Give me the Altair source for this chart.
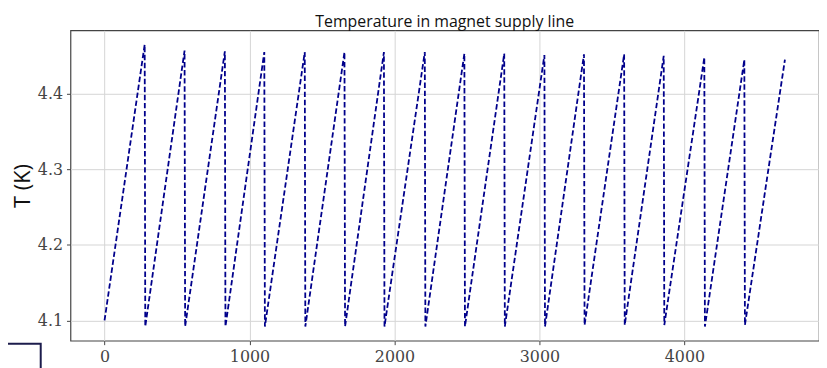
import altair as alt
import pandas as pd

# Sawtooth temperature cycles
start_t = 0
start_T = 4.100
peak_t = [277, 552, 830, 1102, 1381, 1655, 1927, 2209, 2482, 2757, 3034, 3307, 3584, 3857, 4137, 4413]
peak_T = [4.465, 4.457, 4.456, 4.455, 4.455, 4.455, 4.455, 4.455, 4.453, 4.453, 4.451, 4.452, 4.452, 4.450, 4.448, 4.445]
trough_t = [281, 556, 834, 1106, 1385, 1659, 1931, 2213, 2486, 2761, 3038, 3311, 3588, 3861, 4141, 4417]
trough_T = [4.092, 4.092, 4.092, 4.092, 4.092, 4.092, 4.092, 4.092, 4.092, 4.092, 4.092, 4.094, 4.094, 4.094, 4.092, 4.094]
end_t = 4693
end_T = 4.445

x_ticks = [0, 1000, 2000, 3000, 4000]
y_ticks = [4.1, 4.2, 4.3, 4.4]

rows = [{"t": start_t, "T": start_T}]
for pt, pT, tt, tT in zip(peak_t, peak_T, trough_t, trough_T):
    rows.append({"t": pt, "T": pT})
    rows.append({"t": tt, "T": tT})
rows.append({"t": end_t, "T": end_T})
df = pd.DataFrame(rows)
df["i"] = range(len(df))

line = alt.Chart(df).mark_line(
    color="#00008b", strokeWidth=1.8, strokeDash=[5.5, 2.6]
).encode(
    x=alt.X("t:Q", scale=alt.Scale(domain=[-235, 4928], nice=False, zero=False),
            axis=alt.Axis(values=x_ticks, title=None, format="d")),
    y=alt.Y("T:Q", scale=alt.Scale(domain=[4.0733, 4.4837], nice=False, zero=False),
            axis=alt.Axis(values=y_ticks, title="T (K)", format=".1f")),
    order="i:Q",
)

box = alt.Chart(alt.Data(values=[{}])).mark_rect(
    fillOpacity=0, stroke="#1c1c4c", strokeWidth=2
).encode(
    x=alt.value(-75), x2=alt.value(-30), y=alt.value(316), y2=alt.value(360)
)

chart = alt.layer(line, box).properties(
    width=755, height=313,
    title=alt.TitleParams("Temperature in magnet supply line", font="Open Sans",
                          fontSize=16, fontWeight="normal", color="#111", offset=0),
    autosize=alt.AutoSizeParams(type="none"),
    padding={"left": 63, "top": 21, "right": 0, "bottom": 26},
).configure_view(
    stroke="#444", strokeWidth=1.2
).configure_axis(
    grid=True, gridColor="#d4d4d4", gridWidth=1,
    domain=False, tickColor="#444", tickSize=4, tickWidth=1,
    labelFont="DejaVu Serif", labelFontSize=16, labelColor="#444", labelPadding=4,
    titleFont="Open Sans", titleFontSize=22, titleFontWeight="normal", titleColor="#111",
).configure_axisY(titlePadding=3)

chart.save("out.html", embed_options={"renderer": "svg", "actions": False})
